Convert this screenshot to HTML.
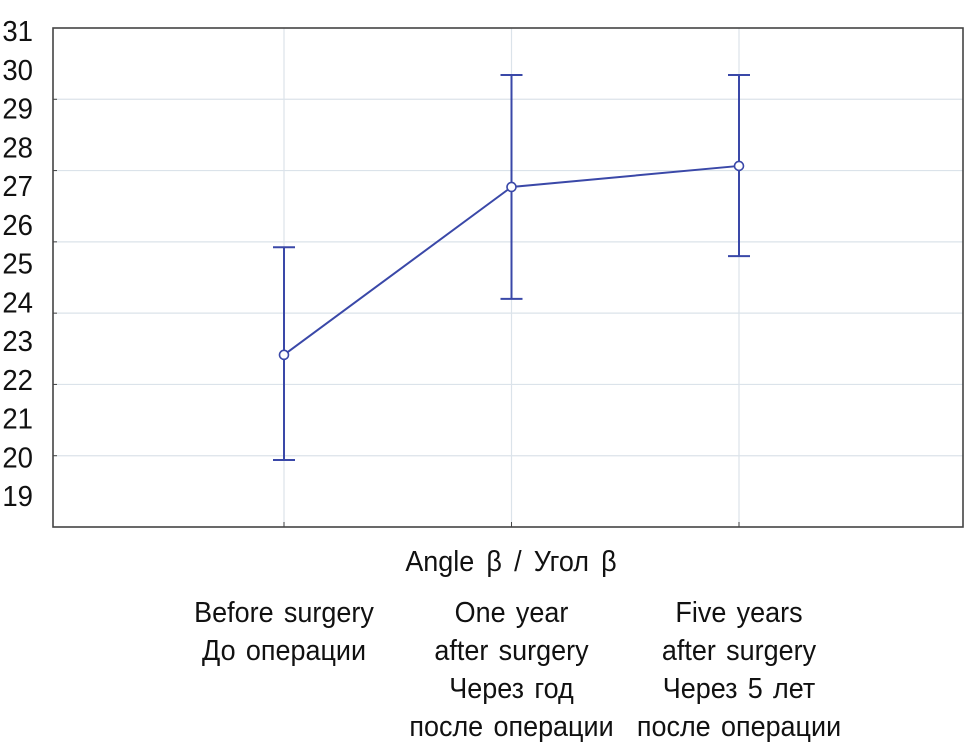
<!DOCTYPE html>
<html><head><meta charset="utf-8"><style>
body{margin:0;background:#fff;}
svg{display:block;font-family:"Liberation Sans","DejaVu Sans",sans-serif;}
</style></head><body>
<svg id="chart" width="969" height="752"></svg>
<script>
const categories=["Before surgery","One year after surgery","Five years after surgery"];
const means=[22.83,27.54,28.13];
const upper=[25.85,30.68,30.68];
const lower=[19.88,24.4,25.6];
const yLabels=["31","30","29","28","27","26","25","24","23","22","21","20","19"];
const gridValues=[30,28,26,24,22,20];
const catLines=[["Before surgery","До операции"],["One year","after surgery","Через год","после операции"],["Five years","after surgery","Через 5 лет","после операции"]];
const NS="http://www.w3.org/2000/svg";
const svg=document.getElementById('chart');
const L=53,R=963,T=28,B=527;
const x=i=>L+3.5+(i+1)*(R-L)/4;
const y=v=>B-(v-18)/(32-18)*(B-T);
function mk(t,a,p){const e=document.createElementNS(NS,t);for(const k in a)e.setAttribute(k,a[k]);(p||svg).appendChild(e);return e;}
gridValues.forEach(v=>{
 const g=mk('line',{x1:L,x2:R,y1:y(v),y2:y(v),stroke:'#dbe3ea','stroke-width':1.2});
 
 
 const t=mk('line',{x1:L,x2:L+4,y1:y(v),y2:y(v),stroke:'#444','stroke-width':1});
 
 
});
categories.forEach((c,i)=>{
 const g=mk('line',{x1:x(i),x2:x(i),y1:T,y2:B,stroke:'#dbe3ea','stroke-width':1.2});
 
 
 const t=mk('line',{x1:x(i),x2:x(i),y1:B-5,y2:B,stroke:'#444','stroke-width':1});
 
 
});
const frame=mk('rect',{x:L,y:T,width:R-L,height:B-T,fill:'none',stroke:'#444','stroke-width':1.6});


yLabels.forEach((s,i)=>{
 const t=mk('text',{transform:'translate(33,'+(41+i*38.75)+') scale(0.95,1)','text-anchor':'end','font-size':29,fill:'#111'});
 t.textContent=s;
 
 
});
const col='#3a48a8';
const pts=means.map((m,i)=>x(i)+','+y(m)).join(' ');
const line=mk('polyline',{points:pts,fill:'none',stroke:col,'stroke-width':2});


means.forEach((m,i)=>{
 const g=mk('g',{});
 
 
 mk('line',{x1:x(i),x2:x(i),y1:y(upper[i]),y2:y(lower[i]),stroke:col,'stroke-width':2},g);
 mk('line',{x1:x(i)-11,x2:x(i)+11,y1:y(upper[i]),y2:y(upper[i]),stroke:col,'stroke-width':2},g);
 mk('line',{x1:x(i)-11,x2:x(i)+11,y1:y(lower[i]),y2:y(lower[i]),stroke:col,'stroke-width':2},g);
 const c=mk('circle',{cx:x(i),cy:y(m),r:4.5,fill:'#fff',stroke:col,'stroke-width':1.6});
 
 
});
const title=mk('text',{transform:'translate(511,571) scale(0.93,1)','text-anchor':'middle','font-size':29,fill:'#111','word-spacing':5});
title.textContent='Angle β / Угол β';


catLines.forEach((ls,i)=>{
 ls.forEach((s,j)=>{
  const t=mk('text',{transform:'translate('+x(i)+','+(622+j*38)+') scale(0.93,1)','text-anchor':'middle','font-size':29,fill:'#111','word-spacing':3});
  t.textContent=s;
  
  
 });
});
</script>
</body></html>
